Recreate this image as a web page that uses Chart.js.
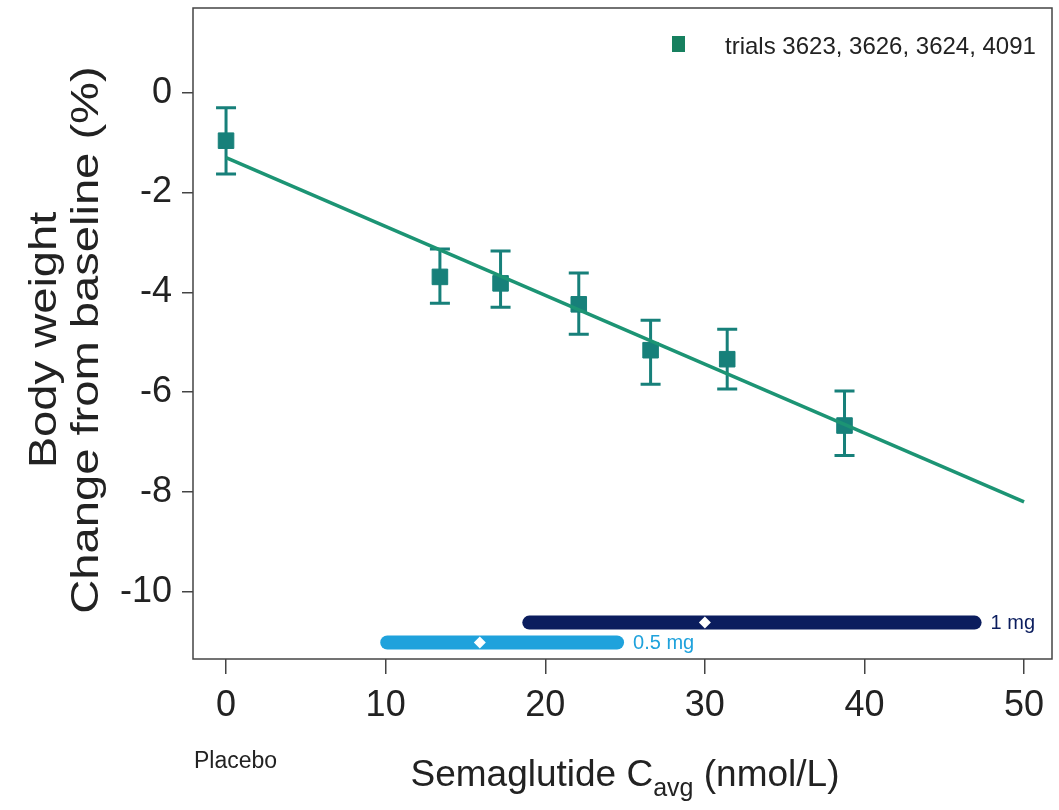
<!DOCTYPE html>
<html>
<head>
<meta charset="utf-8">
<script src="https://cdn.jsdelivr.net/npm/chart.js"></script>
<style>
  html, body { margin: 0; padding: 0; background: #fff; }
  #wrap { width: 1059px; height: 810px; }
</style>
</head>
<body>
<div id="wrap"><canvas id="bwChart" width="1059" height="810"></canvas></div>
<script>
// Datos
const cavg = [0, 13.4, 17.2, 22.1, 26.6, 31.4, 38.75];
const bwChange = [-0.96, -3.69, -3.82, -4.24, -5.16, -5.34, -6.67];
const ciUpper = [-0.3, -3.13, -3.17, -3.61, -4.56, -4.74, -5.98];
const ciLower = [-1.63, -4.22, -4.3, -4.84, -5.84, -5.94, -7.27];

const fitX = [0, 50];
const fitY = [-1.3, -8.2];

const doseLabels = ['1 mg', '0.5 mg'];
const doseLow = [19.0, 10.1];
const doseHigh = [46.9, 24.5];
const doseMedian = [30.0, 15.9];
const doseLevel = [-10.62, -11.02];
const doseColors = ['#0b1d5e', '#1fa2dc'];

const xTicks = [0, 10, 20, 30, 40, 50];
const yTicks = [0, -2, -4, -6, -8, -10];

const pointColor = '#17807a';
const lineColor = '#1c9474';
const axisColor = '#444';
const FONT = "'Liberation Sans', Arial, sans-serif";

const datasets = [
    {
        label: 'fit',
        data: fitX.map((x, i) => ({ x: x, y: fitY[i] })),
        showLine: true,
        borderColor: lineColor,
        borderWidth: 3.5,
        pointRadius: 0,
        order: 1
    },
    {
        label: 'trials 3623, 3626, 3624, 4091',
        data: cavg.map((x, i) => ({ x: x, y: bwChange[i] })),
        pointStyle: 'rect',
        pointRadius: 11,
        backgroundColor: pointColor,
        borderColor: pointColor,
        borderWidth: 1,
        order: 2
    }
];

// Barras de dosis
doseLabels.forEach((lab, i) => {
    datasets.push({
        label: lab,
        data: [{ x: doseLow[i], y: doseLevel[i] }, { x: doseHigh[i], y: doseLevel[i] }],
        showLine: true,
        borderColor: doseColors[i],
        borderWidth: 14,
        borderCapStyle: 'round',
        pointRadius: 0,
        order: 3
    });
    datasets.push({
        label: lab + ' median',
        data: [{ x: doseMedian[i], y: doseLevel[i] }],
        pointStyle: 'rectRot',
        pointRadius: 6,
        backgroundColor: '#ffffff',
        borderColor: '#ffffff',
        borderWidth: 0,
        order: 0
    });
});

// Barras de error, caja, leyenda y títulos
const extrasPlugin = {
    id: 'extras',
    beforeDatasetsDraw(chart) {
        const ctx = chart.ctx;
        const xs = chart.scales.x, ys = chart.scales.y;
        ctx.save();
        ctx.strokeStyle = pointColor;
        ctx.lineWidth = 3;
        cavg.forEach((x, i) => {
            const px = xs.getPixelForValue(x);
            const top = ys.getPixelForValue(ciUpper[i]);
            const bot = ys.getPixelForValue(ciLower[i]);
            ctx.beginPath();
            ctx.moveTo(px, top); ctx.lineTo(px, bot);
            ctx.moveTo(px - 10, top); ctx.lineTo(px + 10, top);
            ctx.moveTo(px - 10, bot); ctx.lineTo(px + 10, bot);
            ctx.stroke();
        });
        ctx.restore();
    },
    afterDraw(chart) {
        const ctx = chart.ctx;
        const a = chart.chartArea;
        const xs = chart.scales.x, ys = chart.scales.y;
        ctx.save();
        // caja
        ctx.strokeStyle = axisColor;
        ctx.lineWidth = 1.5;
        ctx.strokeRect(a.left, a.top, a.right - a.left, a.bottom - a.top);

        // leyenda
        ctx.fillStyle = '#17805f';
        ctx.fillRect(672, 36, 13, 16);
        ctx.fillStyle = '#222';
        ctx.font = '24px ' + FONT;
        ctx.textBaseline = 'middle';
        ctx.textAlign = 'left';
        ctx.fillText('trials 3623, 3626, 3624, 4091', 725, 47);

        // etiquetas de dosis
        ctx.font = '20px ' + FONT;
        doseLabels.forEach((lab, i) => {
            ctx.fillStyle = doseColors[i];
            ctx.fillText(lab, xs.getPixelForValue(doseHigh[i]) + 16, ys.getPixelForValue(doseLevel[i]) + 1);
        });

        // Placebo
        ctx.fillStyle = '#222';
        ctx.font = '23px ' + FONT;
        ctx.textAlign = 'left';
        ctx.fillText('Placebo', 194, 762);

        // título eje X con subíndice
        const mainFont = '37px ' + FONT;
        const subFont = '25px ' + FONT;
        const p1 = 'Semaglutide C', p2 = 'avg', p3 = ' (nmol/L)';
        ctx.font = mainFont; const w1 = ctx.measureText(p1).width; const w3 = ctx.measureText(p3).width;
        ctx.font = subFont; const w2 = ctx.measureText(p2).width;
        let x0 = 625 - (w1 + w2 + w3) / 2;
        ctx.textBaseline = 'alphabetic';
        ctx.font = mainFont; ctx.fillText(p1, x0, 786);
        ctx.font = subFont; ctx.fillText(p2, x0 + w1, 796);
        ctx.font = mainFont; ctx.fillText(p3, x0 + w1 + w2, 786);

        // título eje Y en dos líneas (algo estirado a lo largo)
        ctx.translate(0, 340);
        ctx.rotate(-Math.PI / 2);
        ctx.scale(1.24, 1);
        ctx.textAlign = 'center';
        ctx.textBaseline = 'alphabetic';
        ctx.font = '38px ' + FONT;
        ctx.fillText('Body weight', 0, 56);
        ctx.fillText('Change from baseline (%)', 0, 98);
        ctx.restore();
    }
};

new Chart(document.getElementById('bwChart').getContext('2d'), {
    type: 'scatter',
    data: { datasets: datasets },
    options: {
        responsive: false,
        animation: false,
        layout: { autoPadding: false, padding: { top: 8, right: 7, left: 0, bottom: 0 } },
        plugins: {
            legend: { display: false },
            tooltip: { enabled: false }
        },
        scales: {
            x: {
                type: 'linear',
                min: -2.07,
                max: 51.75,
                afterFit: function (scale) {
                    scale.height = 151;
                    scale.paddingLeft = 0;
                    scale.paddingRight = 0;
                },
                afterBuildTicks: function (scale) { scale.ticks = xTicks.map(v => ({ value: v })); },
                grid: { drawOnChartArea: false, drawTicks: true, tickLength: 15, color: axisColor, lineWidth: 1.5 },
                border: { display: false },
                ticks: {
                    color: '#222',
                    padding: 10,
                    maxRotation: 0,
                    font: { family: FONT, size: 36 }
                }
            },
            y: {
                type: 'linear',
                min: -11.35,
                max: 1.7,
                afterFit: function (scale) {
                    scale.width = 193;
                    scale.paddingTop = 0;
                    scale.paddingBottom = 0;
                },
                afterBuildTicks: function (scale) { scale.ticks = yTicks.map(v => ({ value: v })); },
                grid: { drawOnChartArea: false, drawTicks: true, tickLength: 11, color: axisColor, lineWidth: 1.5 },
                border: { display: false },
                ticks: {
                    color: '#222',
                    padding: 10,
                    font: { family: FONT, size: 36 }
                }
            }
        }
    },
    plugins: [extrasPlugin]
});
</script>
</body>
</html>
